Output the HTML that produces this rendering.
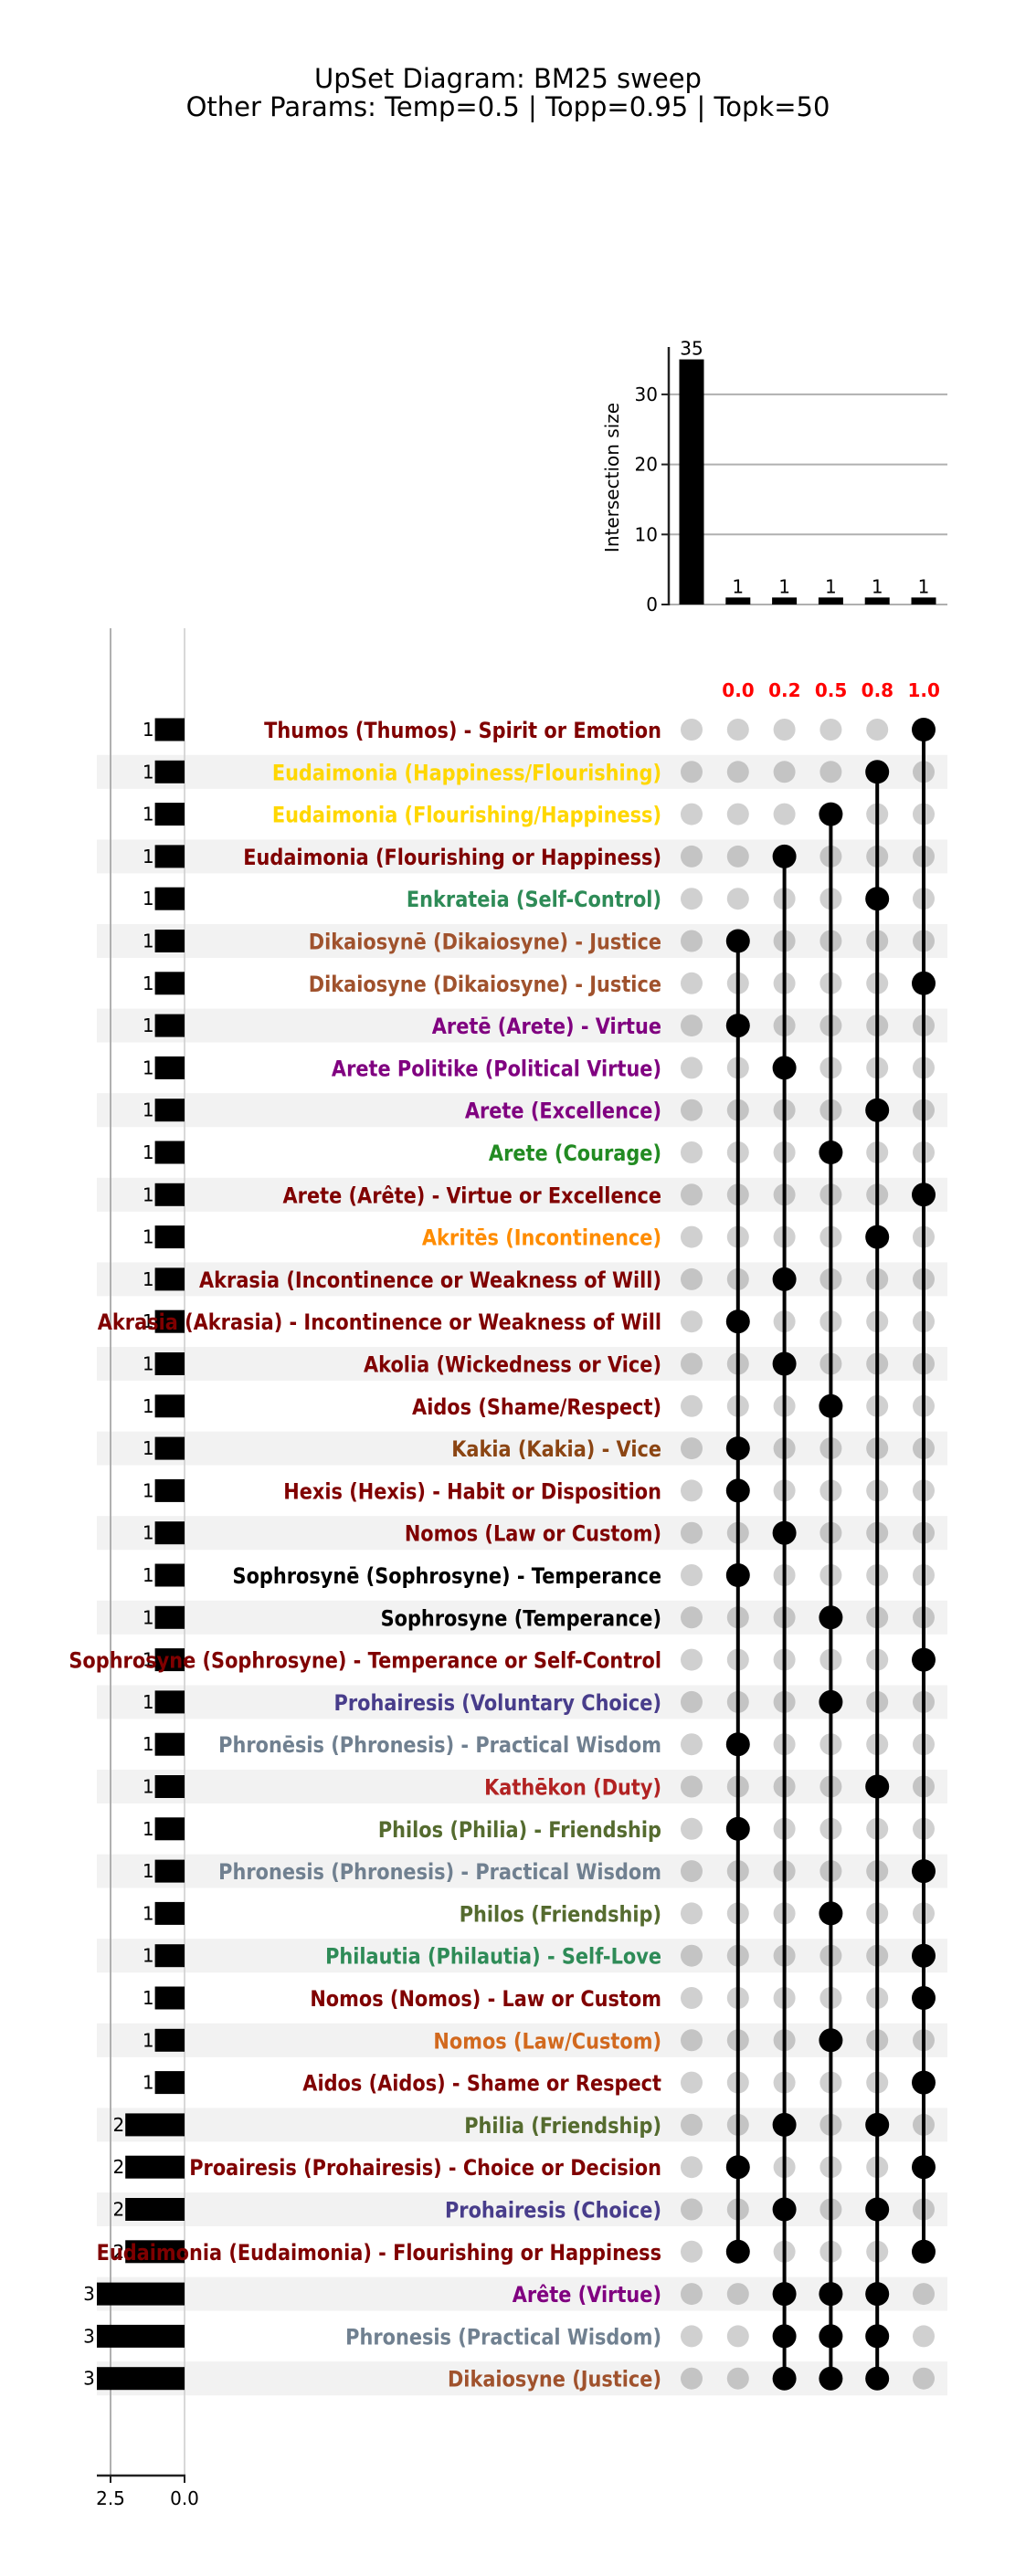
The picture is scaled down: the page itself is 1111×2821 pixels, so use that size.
<!DOCTYPE html>
<html><head><meta charset="utf-8">
<style>
html,body{margin:0;padding:0;background:#fff;}
svg{display:block;font-family:"DejaVu Sans","Liberation Sans",sans-serif;}
</style></head>
<body>
<svg id="chart" width="1111" height="2821" viewBox="0 0 1111 2821" xmlns="http://www.w3.org/2000/svg">
<text x="556" y="96" font-size="29" text-anchor="middle" fill="#000">UpSet Diagram: BM25 sweep</text>
<text x="556" y="127" font-size="29" text-anchor="middle" fill="#000">Other Params: Temp=0.5 | Topp=0.95 | Topk=50</text>
<g id="layer-stripes"></g>
<g id="layer-left"></g>
<g id="layer-top"></g>
<g id="layer-matrix"></g>
<g id="layer-labels"></g>
</svg>
<script>
const columns = ["0.0","0.2","0.5","0.8","1.0"];
const intersectionSizes = [35,1,1,1,1,1];
const intersectionTicks = [0,10,20,30];
const rowLabels = [
"Thumos (Thumos) - Spirit or Emotion","Eudaimonia (Happiness/Flourishing)","Eudaimonia (Flourishing/Happiness)","Eudaimonia (Flourishing or Happiness)","Enkrateia (Self-Control)","Dikaiosynē (Dikaiosyne) - Justice","Dikaiosyne (Dikaiosyne) - Justice","Aretē (Arete) - Virtue","Arete Politike (Political Virtue)","Arete (Excellence)","Arete (Courage)","Arete (Arête) - Virtue or Excellence","Akritēs (Incontinence)","Akrasia (Incontinence or Weakness of Will)","Akrasia (Akrasia) - Incontinence or Weakness of Will","Akolia (Wickedness or Vice)","Aidos (Shame/Respect)","Kakia (Kakia) - Vice","Hexis (Hexis) - Habit or Disposition","Nomos (Law or Custom)","Sophrosynē (Sophrosyne) - Temperance","Sophrosyne (Temperance)","Sophrosyne (Sophrosyne) - Temperance or Self-Control","Prohairesis (Voluntary Choice)","Phronēsis (Phronesis) - Practical Wisdom","Kathēkon (Duty)","Philos (Philia) - Friendship","Phronesis (Phronesis) - Practical Wisdom","Philos (Friendship)","Philautia (Philautia) - Self-Love","Nomos (Nomos) - Law or Custom","Nomos (Law/Custom)","Aidos (Aidos) - Shame or Respect","Philia (Friendship)","Proairesis (Prohairesis) - Choice or Decision","Prohairesis (Choice)","Eudaimonia (Eudaimonia) - Flourishing or Happiness","Arête (Virtue)","Phronesis (Practical Wisdom)","Dikaiosyne (Justice)"];
const rowColors = ["#800000","#FFD700","#FFD700","#800000","#2E8B57","#A0522D","#A0522D","#800080","#800080","#800080","#228B22","#800000","#FF8C00","#800000","#800000","#800000","#800000","#8B4513","#800000","#800000","#000000","#000000","#800000","#483D8B","#708090","#B22222","#556B2F","#708090","#556B2F","#2E8B57","#800000","#D2691E","#800000","#556B2F","#800000","#483D8B","#800000","#800080","#708090","#A0522D"];
const setSizes = [1,1,1,1,1,1,1,1,1,1,1,1,1,1,1,1,1,1,1,1,1,1,1,1,1,1,1,1,1,1,1,1,1,2,2,2,2,3,3,3];
// membership: column indices (0..4 => 0.0..1.0) active in each row
const membership = [[4],[3],[2],[1],[3],[0],[4],[0],[1],[3],[2],[4],[3],[1],[0],[1],[2],[0],[0],[1],[0],[2],[4],[2],[0],[3],[0],[4],[2],[4],[4],[2],[4],[1,3],[0,4],[1,3],[0,4],[1,2,3],[1,2,3],[1,2,3]];

const NS="http://www.w3.org/2000/svg";
function mk(tag,attrs,parent,txt){const e=document.createElementNS(NS,tag);for(const k in attrs)e.setAttribute(k,attrs[k]);if(txt!==undefined)e.textContent=txt;parent.appendChild(e);return e;}
const rowY = i => 799 + i*46.3;
const dotX = j => 808 + j*50.8;
const barX = j => 757 + j*50.8;
const topY = v => 662 - v*7.67;
const leftX = v => 202 - v*32.4;

const gS=document.getElementById('layer-stripes'),gL=document.getElementById('layer-left'),gT=document.getElementById('layer-top'),gM=document.getElementById('layer-matrix'),gLab=document.getElementById('layer-labels');

rowLabels.forEach((l,i)=>{ if(i%2===1){
  const r=mk('rect',{x:106,y:rowY(i)-18.5,width:931,height:37,fill:'#f2f2f2'},gS);
  
  
}});

// left set-size chart
const gl=mk('line',{x1:leftX(2.5),x2:leftX(2.5),y1:688,y2:2711,stroke:'#b0b0b0','stroke-width':2},gL);


const zl=mk('line',{x1:leftX(0),x2:leftX(0),y1:688,y2:2711,stroke:'#cccccc','stroke-width':1.5},gL);


const clip=mk('clipPath',{id:'lclip'},gL);mk('rect',{x:106,y:600,width:120,height:2200},clip);
setSizes.forEach((v,i)=>{
  const b=mk('rect',{x:leftX(v),y:rowY(i)-12.5,width:leftX(0)-leftX(v),height:25,fill:'#000','clip-path':'url(#lclip)'},gL);
  
  
  const t=mk('text',{x:leftX(v)-1,y:rowY(i)+7,'font-size':20,'text-anchor':'end',fill:'#000'},gL,String(v));
  
  
});
mk('line',{x1:106,x2:203,y1:2711,y2:2711,stroke:'#222','stroke-width':2.5},gL);
[2.5,0].forEach(v=>{
  mk('line',{x1:leftX(v),x2:leftX(v),y1:2711,y2:2719,stroke:'#222','stroke-width':2},gL);
  const t=mk('text',{x:leftX(v),y:2743,'font-size':20,'text-anchor':'middle',fill:'#000'},gL,v.toFixed(1));
  
  
});

// top intersection chart
intersectionTicks.forEach(v=>{
  mk('line',{x1:732,x2:1037,y1:topY(v),y2:topY(v),stroke:'#b0b0b0','stroke-width':2},gT);
  mk('line',{x1:724,x2:732,y1:topY(v),y2:topY(v),stroke:'#222','stroke-width':2},gT);
  const t=mk('text',{x:720,y:topY(v)+7,'font-size':20,'text-anchor':'end',fill:'#000'},gT,String(v));
  
  
});
mk('line',{x1:732,x2:732,y1:380,y2:663,stroke:'#222','stroke-width':2.5},gT);
const yl=mk('text',{x:0,y:0,'font-size':20,'text-anchor':'middle',fill:'#000',transform:'translate(677,523) rotate(-90)'},gT,'Intersection size');


intersectionSizes.forEach((v,j)=>{
  const b=mk('rect',{x:barX(j)-13.5,y:topY(v),width:27,height:topY(0)-topY(v),fill:'#000'},gT);
  
  
  const t=mk('text',{x:barX(j),y:topY(v)-5,'font-size':20,'text-anchor':'middle',fill:'#000'},gT,String(v));
  
  
});

// column headers
columns.forEach((c,j)=>{
  const t=mk('text',{x:dotX(j),y:763,'font-size':20,'font-weight':'bold','text-anchor':'middle',fill:'#ff0000'},gM,c);
  
  
});
// matrix dots
const dotCols=[-1,0,1,2,3,4]; // first dot column is never active
dotCols.forEach((cIdx,k)=>{
  const x=757+k*50.8;
  const rows=[];membership.forEach((m,i)=>{if(m.includes(cIdx))rows.push(i);});
  rowLabels.forEach((l,i)=>{
    if(!rows.includes(i)){
      const d=mk('circle',{cx:x,cy:rowY(i),r:12,fill:i%2?'#c4c4c4':'#d0d0d0'},gM);
      
      
    }
  });
  if(rows.length>1){
    const ln=mk('line',{x1:x,x2:x,y1:rowY(rows[0]),y2:rowY(rows[rows.length-1]),stroke:'#000','stroke-width':4},gM);
    
    
  }
  rows.forEach(i=>{
    const d=mk('circle',{cx:x,cy:rowY(i),r:13,fill:'#000'},gM);
    
    
  });
});
// row labels
rowLabels.forEach((l,i)=>{
  const t=mk('text',{x:0,y:0,'font-size':24,'font-weight':'bold','text-anchor':'end',fill:rowColors[i],transform:'translate(724,'+(rowY(i)+9)+') scale(0.87,1)'},gLab,l);
  
  
});
</script>
</body></html>
